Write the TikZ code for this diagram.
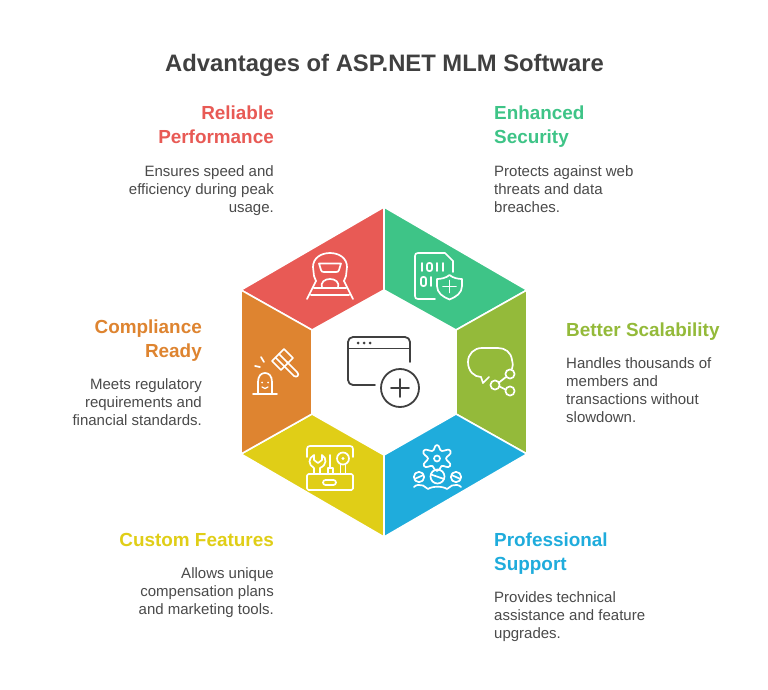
\documentclass[tikz,border=0pt]{standalone}
\usepackage{fontspec}
\setmainfont{Liberation Sans}
\definecolor{cred}{HTML}{E85A55}
\definecolor{cgreen}{HTML}{3EC487}
\definecolor{colive}{HTML}{94BA3A}
\definecolor{cblue}{HTML}{1FACDC}
\definecolor{cyell}{HTML}{E0CE17}
\definecolor{corange}{HTML}{DE8430}
\definecolor{ctitle}{HTML}{404040}
\definecolor{cbody}{HTML}{4A4A4A}
\tikzset{
  seg/.style={draw=white,line width=1.6pt,line join=miter},
  ico/.style={draw=white,line width=1.7pt,line cap=round,line join=round,fill=none},
  mainico/.style={draw=ctitle,line width=1.8pt,line cap=round,line join=round,fill=none},
  head/.style={inner sep=0pt,font=\fontsize{18.9}{24}\selectfont\bfseries},
  bodyr/.style={inner sep=0pt,anchor=north east,align=right,text=cbody,font=\fontsize{15}{18}\selectfont},
  bodyl/.style={inner sep=0pt,anchor=north west,align=left,text=cbody,font=\fontsize{15}{18}\selectfont},
  headr/.style={head,anchor=north east,align=right},
  headl/.style={head,anchor=north west,align=left},
}
\begin{document}
\begin{tikzpicture}[x=1pt,y=-1pt]
\useasboundingbox (0,0) rectangle (768,690);
\fill[white] (0,0) rectangle (768,690);
\node[inner sep=0pt,text=ctitle,font=\fontsize{23.8}{30}\selectfont\bfseries] (title) at (384.5,65.5) {Advantages of ASP.NET MLM Software};
% segments
\path[seg,fill=cred] (241,290)--(384,207)--(384,290)--(312,330)--cycle;
\path[seg,fill=cgreen] (384,207)--(527,290)--(456,330)--(384,290)--cycle;
\path[seg,fill=colive] (527,290)--(527,454)--(456,414)--(456,330)--cycle;
\path[seg,fill=cblue] (527,454)--(384,537)--(384,455)--(456,414)--cycle;
\path[seg,fill=cyell] (384,537)--(241,454)--(312,414)--(384,455)--cycle;
\path[seg,fill=corange] (241,454)--(241,290)--(312,330)--(312,414)--cycle;
% texts
\node[headr,text=cred] (h1) at (274,106) {Reliable\\Performance};
\node[bodyr] (b1) at (274,165.5) {Ensures speed and\\efficiency during peak\\usage.};
\node[headl,text=cgreen] (h2) at (494,106) {Enhanced\\Security};
\node[bodyl] (b2) at (494,165.5) {Protects against web\\threats and data\\breaches.};
\node[headl,text=colive] (h3) at (566,323) {Better Scalability};
\node[bodyl] (b3) at (566,357.5) {Handles thousands of\\members and\\transactions without\\slowdown.};
\node[headl,text=cblue] (h4) at (494,533) {Professional\\Support};
\node[bodyl] (b4) at (494,591.5) {Provides technical\\assistance and feature\\upgrades.};
\node[headr,text=cyell] (h5) at (274,533) {Custom Features};
\node[bodyr] (b5) at (274,567.5) {Allows unique\\compensation plans\\and marketing tools.};
\node[headr,text=corange] (h6) at (202,320) {Compliance\\Ready};
\node[bodyr] (b6) at (202,378.5) {Meets regulatory\\requirements and\\financial standards.};
% centre icon
\draw[mainico,rounded corners=5pt] (410,362)--(410,337)--(348,337)--(348,385)--(375,385);
\draw[mainico] (348,348.5)--(410,348.5);
\fill[ctitle] (358,343) circle (1.5) (364,343) circle (1.5) (370,343) circle (1.5);
\draw[mainico] (400,388) circle (19);
\draw[mainico] (391,388)--(409,388) (400,379)--(400,397);
% train icon
\draw[ico] (316,281) -- (314,276) -- (313,267) .. controls (313,258) and (321,253) .. (330,253) .. controls (339,253) and (347,258) .. (347,267) -- (346,276) -- (344,281);
\draw[ico] (319,263.5)--(341,263.5)--(339,270) .. controls (338.5,271.5) and (338,272) .. (336,272) -- (324,272) .. controls (322,272) and (321.5,271.5) .. (321,270) -- cycle;
\draw[ico] (322,288) .. controls (318,276) and (342,276) .. (338,288);
\draw[ico] (316,281)--(307,299) (344,281)--(353,299) (314,288)--(346,288) (311,295)--(349,295);
% security icon
\draw[ico] (435,299)--(418,299)  .. controls (416,299) and (415,298) .. (415,296)--(415,256) .. controls (415,254) and (416,253) .. (418,253)--(445,253)--(453,261)--(453,272);
\draw[ico] (422,263)--(422,271) (437,263)--(437,271) (443,263)--(443,271) (431,277)--(431,286);
\draw[ico,rounded corners=2pt] (427,263) rectangle (432,271);
\draw[ico,rounded corners=2pt] (421,277) rectangle (426,286);
\draw[ico] (449.5,275) .. controls (453,278) and (458,279) .. (462,279) -- (462,286) .. controls (462,293) and (456,297) .. (449.5,299.5) .. controls (443,297) and (437,293) .. (437,286) -- (437,279) .. controls (441,279) and (446,278) .. (449.5,275);
\draw[ico] (443,286.5)--(456,286.5) (449.5,280.5)--(449.5,292.5);
% scalability icon
\draw[ico] (512,369) .. controls (513,366) and (513,364) .. (512,360) .. controls (511,352) and (505,348) .. (498,348) -- (482,348) .. controls (474,348) and (468,354) .. (468,362) .. controls (468,371) and (474,377) .. (481,377) -- (483,383) -- (489,377);
\draw[ico] (495,385) circle (4.6) (510,374) circle (4.6) (510,391) circle (4.6);
\draw[ico] (499,382.5)--(506,377) (499.5,386.5)--(505.5,389.5);
% support icon
\draw[ico] (437,445) .. controls (440,445) and (439,451) .. (442,451) .. controls (445,451) and (449,448) .. (450.5,451) .. controls (452,455) and (446,456) .. (446,458.5) .. controls (446,461) and (452,463) .. (450,466) .. controls (448,469) and (444,465) .. (441.5,466) .. controls (439,468) and (440,471) .. (437,471) .. controls (434,471) and (435,468) .. (432.5,466) .. controls (430,465) and (426,469) .. (424,466) .. controls (422,463) and (428,461) .. (428,458.5) .. controls (428,456) and (422,455) .. (423.5,451) .. controls (425,448) and (429,451) .. (432,451) .. controls (435,451) and (434,445) .. (437,445) -- cycle;
\draw[ico] (437,458.5) circle (3);
\draw[ico] (419,477) circle (5.2) (437.5,476.5) circle (7) (456,477) circle (5.2);
\draw[ico] (414.5,479)--(423.5,475) (431,474.5)--(444,479) (451.5,475)--(460.5,479);
\draw[ico] (414,487) .. controls (416,484.5) and (420,484.5) .. (423,485.5) -- (428,489) .. controls (432,486) and (443,486) .. (447,489) -- (452,485.5) .. controls (455,484.5) and (459,484.5) .. (461,487);
% features icon
\draw[ico] (307,457)--(307,449) .. controls (307,447) and (308,446) .. (310,446) -- (350,446) .. controls (352,446) and (353,447) .. (353,449)--(353,457);
\draw[ico,rounded corners=1.5pt] (307,474) rectangle (353,490);
\draw[ico,rounded corners=2.5pt] (323,480) rectangle (336,485);
\draw[ico] (314,474)--(314,468) .. controls (308,465) and (308,458) .. (314,455) -- (314,460) -- (318,463) -- (322,460) -- (322,455) .. controls (327,458) and (327,465) .. (320,468) -- (320,474);
\draw[ico] (330,455)--(330,468) (328,474)--(328,468)--(333,468)--(333,474);
\draw[ico] (343,458.5) circle (6);
\fill[white] (343,458.5) circle (1.6);
\draw[ico] (340.5,465)--(340.5,474) (345.5,465)--(345.5,474);
% compliance icon
\draw[ico] (258,393)--(258,382) .. controls (258,376) and (261,373) .. (265,373) .. controls (269,373) and (272,376) .. (272,382) -- (272,393);
\draw[ico] (253,394)--(277,394);
\fill[white] (262,382.5) circle (1) (268,382.5) circle (1);
\draw[ico,line width=1.2pt] (262,387) .. controls (264,389) and (266,389) .. (268,387);
\draw[ico] (261,357)--(264,362) (255,366)--(260,367);
\draw[ico] (272,361)--(284,349)--(293,358)--(281,370)--cycle;
\draw[ico] (275.5,357.5)--(284.5,366.5) (279,354)--(288,363);
\draw[ico] (287,362)--(297,372) .. controls (300,375) and (297,378) .. (294,376) -- (284,366);
\end{tikzpicture}
\end{document}
